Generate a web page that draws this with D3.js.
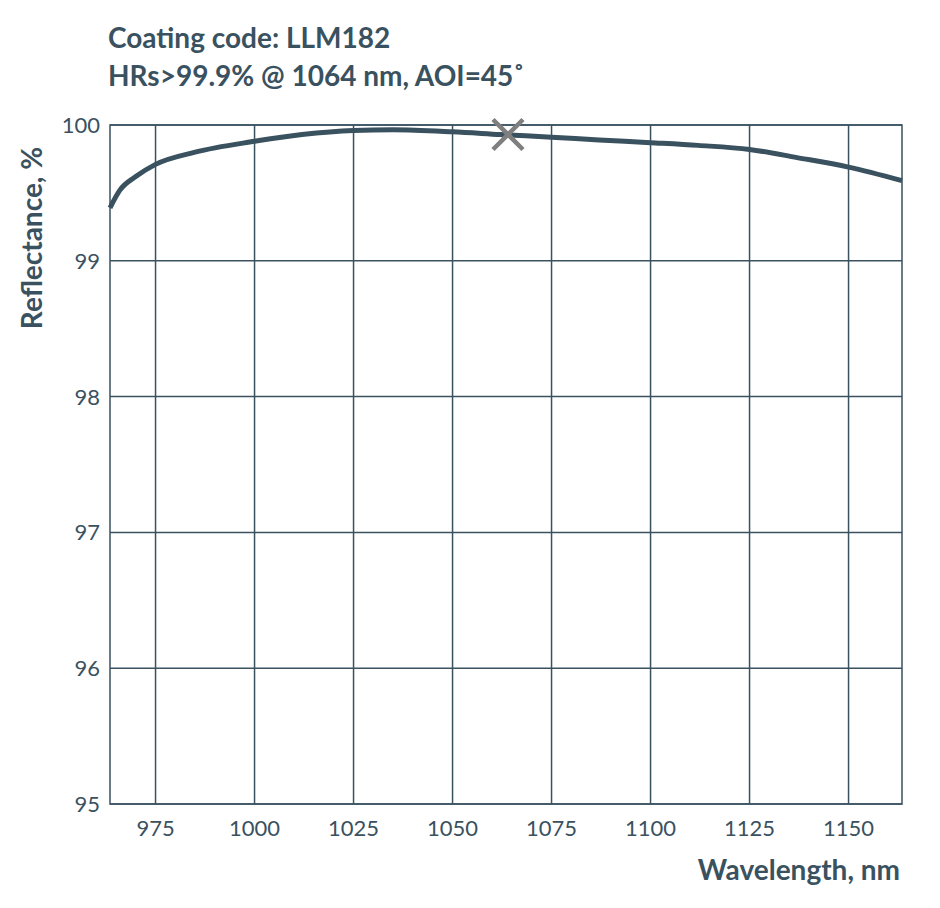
<!DOCTYPE html>
<html><head><meta charset="utf-8">
<script src="https://cdn.jsdelivr.net/npm/d3@7"></script>
<style>body{margin:0;background:#fff}text{font-family:Lato,"Open Sans",sans-serif}</style>
</head><body><svg id="chart" width="940" height="908"></svg>
<script>
// curve readings (wavelength nm, reflectance %)
var wavelengths = [963.5, 966, 970, 975, 985, 1000, 1012, 1025, 1035, 1050, 1062, 1075, 1087, 1100, 1112, 1125, 1137, 1150, 1163.5];
var reflectance = [99.39, 99.52, 99.62, 99.71, 99.80, 99.88, 99.93, 99.96, 99.965, 99.95, 99.93, 99.91, 99.89, 99.87, 99.85, 99.82, 99.76, 99.69, 99.59];
var markerPoint = [1064, 99.93];
var xTicks = [975, 1000, 1025, 1050, 1075, 1100, 1125, 1150];
var yTicks = [95, 96, 97, 98, 99, 100];
var titleLines = ["Coating code: LLM182", "HRs>99.9% @ 1064 nm, AOI=45˚"];

var color = "#3a5160";
var svg = d3.select("#chart");
var x = d3.scaleLinear().domain([963.5, 1163.5]).range([110, 902]);
var y = d3.scaleLinear().domain([95, 100]).range([804, 125]);

// grid
var g = svg.append("g");
g.selectAll(".vx").data(xTicks).enter().append("line")
  .attr("x1", d => x(d)).attr("x2", d => x(d)).attr("y1", 125).attr("y2", 804)
  .attr("stroke", color).attr("stroke-width", 1.5);
g.selectAll(".hy").data(yTicks).enter().append("line")
  .attr("x1", 110).attr("x2", 902).attr("y1", d => y(d)).attr("y2", d => y(d))
  .attr("stroke", color).attr("stroke-width", 1.5);
g.append("rect").attr("x", 110).attr("y", 125).attr("width", 792).attr("height", 679)
  .attr("fill", "none").attr("stroke", color).attr("stroke-width", 1.5);

// tick labels
svg.selectAll(".xl").data(xTicks).enter().append("text")
  .attr("x", d => x(d)).attr("y", 836).attr("text-anchor", "middle")
  .attr("font-size", 22).attr("fill", color).text(d => d);
svg.selectAll(".yl").data(yTicks).enter().append("text")
  .attr("x", 100).attr("y", d => y(d) + 8).attr("text-anchor", "end")
  .attr("font-size", 22).attr("fill", color).text(d => d);

// curve
var line = d3.line().x(d => x(d[0])).y(d => y(d[1])).curve(d3.curveMonotoneX);
svg.append("path").datum(d3.zip(wavelengths, reflectance)).attr("d", line)
  .attr("fill", "none").attr("stroke", color).attr("stroke-width", 5);

// marker
var mx = x(markerPoint[0]), my = y(markerPoint[1]), s = 15;
svg.append("path").attr("d", `M${mx-s},${my-s}L${mx+s},${my+s}M${mx-s},${my+s}L${mx+s},${my-s}`)
  .attr("stroke", "#7f7f7f").attr("stroke-width", 4.5);

// titles
svg.selectAll(".t").data(titleLines).enter().append("text")
  .attr("x", 108).attr("y", (d, i) => 48 + i * 38)
  .attr("font-size", 28).attr("font-weight", "bold").attr("fill", color).text(d => d);
svg.append("text").attr("x", 900).attr("y", 880).attr("text-anchor", "end")
  .attr("font-size", 28).attr("font-weight", "bold").attr("fill", color).text("Wavelength, nm");
svg.append("text").attr("transform", "translate(42,238) rotate(-90)").attr("text-anchor", "middle")
  .attr("font-size", 28).attr("font-weight", "bold").attr("fill", color).text("Reflectance, %");
</script></body></html>
